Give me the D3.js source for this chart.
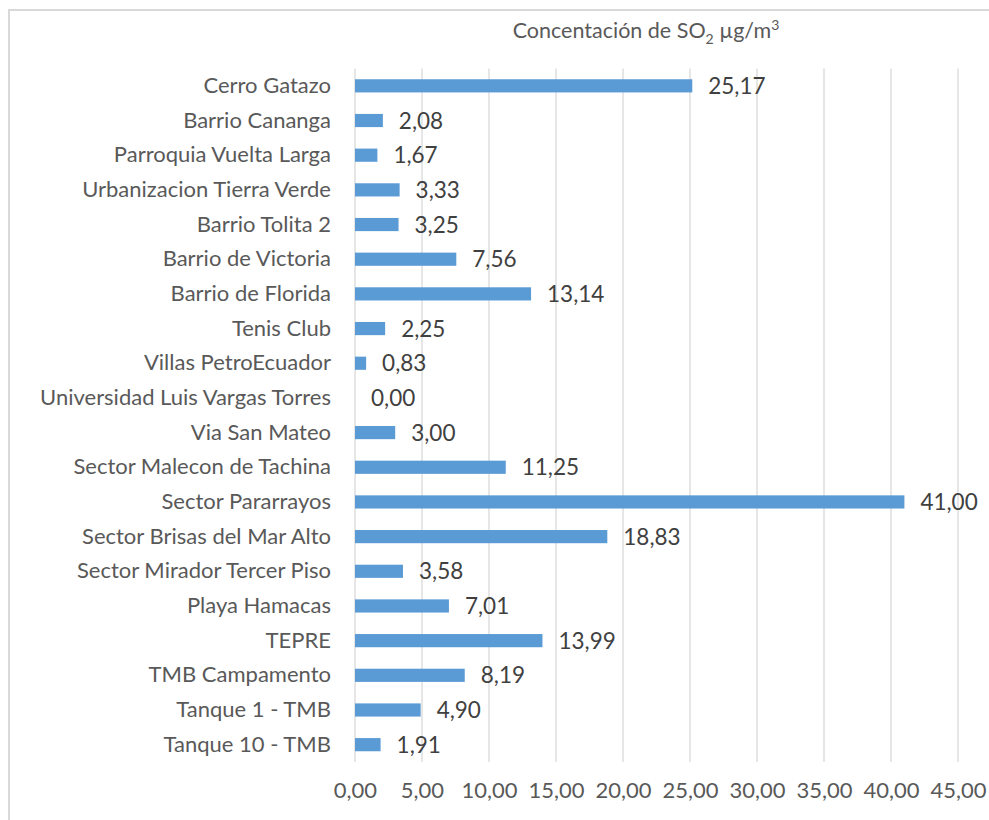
<!DOCTYPE html>
<html>
<head>
<meta charset="utf-8">
<script src="https://cdn.jsdelivr.net/npm/d3@7"></script>
<style>
  html, body { margin: 0; padding: 0; background: #fff; }
  svg { display: block; }
  text { font-family: Lato, "Open Sans", sans-serif; }
</style>
</head>
<body>
<svg id="chart" width="989" height="820"></svg>
<script>
// Sampling sites, listed top to bottom
const sites = [
  "Cerro Gatazo",
  "Barrio Cananga",
  "Parroquia Vuelta Larga",
  "Urbanizacion Tierra Verde",
  "Barrio Tolita 2",
  "Barrio de Victoria",
  "Barrio de Florida",
  "Tenis Club",
  "Villas PetroEcuador",
  "Universidad Luis Vargas Torres",
  "Via San Mateo",
  "Sector Malecon de Tachina",
  "Sector Pararrayos",
  "Sector Brisas del Mar Alto",
  "Sector Mirador Tercer Piso",
  "Playa Hamacas",
  "TEPRE",
  "TMB Campamento",
  "Tanque 1 - TMB",
  "Tanque 10 - TMB"
];

// SO2 concentration per site (µg/m3)
const so2 = [
  25.17, 2.08, 1.67, 3.33, 3.25, 7.56, 13.14, 2.25, 0.83, 0.00,
  3.00, 11.25, 41.00, 18.83, 3.58, 7.01, 13.99, 8.19, 4.90, 1.91
];

// Axis ticks
const xTicks = [0, 5, 10, 15, 20, 25, 30, 35, 40, 45];

const data = sites.map((s, i) => ({ site: s, value: so2[i] }));
const fmt = v => v.toFixed(2).replace(".", ",");

const svg = d3.select("#chart");

// Outer chart frame
svg.append("rect")
  .attr("x", 9).attr("y", 10)
  .attr("width", 1000).attr("height", 830)
  .attr("fill", "#fff")
  .attr("stroke", "#d9d9d9")
  .attr("stroke-width", 2);

const plot = { left: 355, right: 958, top: 68.5, bottom: 762 };

const x = d3.scaleLinear()
  .domain([0, 45])
  .range([plot.left, plot.right]);

const y = d3.scaleBand()
  .domain(sites)
  .range([plot.top, plot.bottom])
  .paddingInner(0.62)
  .paddingOuter(0.31);

// Vertical gridlines
svg.append("g")
  .selectAll("line")
  .data(xTicks)
  .join("line")
  .attr("x1", d => x(d)).attr("x2", d => x(d))
  .attr("y1", plot.top).attr("y2", plot.bottom)
  .attr("stroke", "#d9d9d9")
  .attr("stroke-width", 1.3);

// Bars
svg.append("g")
  .selectAll("rect")
  .data(data)
  .join("rect")
  .attr("x", x(0))
  .attr("y", d => y(d.site))
  .attr("width", d => x(d.value) - x(0))
  .attr("height", y.bandwidth())
  .attr("fill", "#5b9bd5");

// Value labels
svg.append("g")
  .selectAll("text")
  .data(data)
  .join("text")
  .attr("x", d => x(d.value) + 16)
  .attr("y", d => y(d.site) + y.bandwidth() / 2)
  .attr("dy", "0.36em")
  .attr("font-size", 22.5)
  .attr("fill", "#404040")
  .text(d => fmt(d.value));

// Category axis
const yAxis = d3.axisLeft(y).tickSize(0).tickPadding(24);
const gy = svg.append("g")
  .attr("transform", `translate(${plot.left},0)`)
  .call(yAxis);
gy.select(".domain").remove();
gy.selectAll("text")
  .attr("font-size", 22)
  .attr("fill", "#595959")
  .attr("font-family", "Lato, 'Open Sans', sans-serif");

// Value axis
const xAxis = d3.axisBottom(x).tickValues(xTicks).tickSize(0).tickPadding(20).tickFormat(fmt);
const gx = svg.append("g")
  .attr("transform", `translate(0,${plot.bottom})`)
  .call(xAxis);
gx.select(".domain").remove();
gx.selectAll("text")
  .attr("font-size", 22)
  .attr("fill", "#595959")
  .attr("font-family", "Lato, 'Open Sans', sans-serif");

// Title
const title = svg.append("text")
  .attr("x", 646)
  .attr("y", 38)
  .attr("text-anchor", "middle")
  .attr("font-size", 21.5)
  .attr("fill", "#595959");
title.append("tspan").text("Concentación de SO");
title.append("tspan").attr("font-size", 14).attr("dy", 6).text("2");
title.append("tspan").attr("dy", -6).text(" µg/m");
title.append("tspan").attr("font-size", 14).attr("dy", -8).text("3");
</script>
</body>
</html>
